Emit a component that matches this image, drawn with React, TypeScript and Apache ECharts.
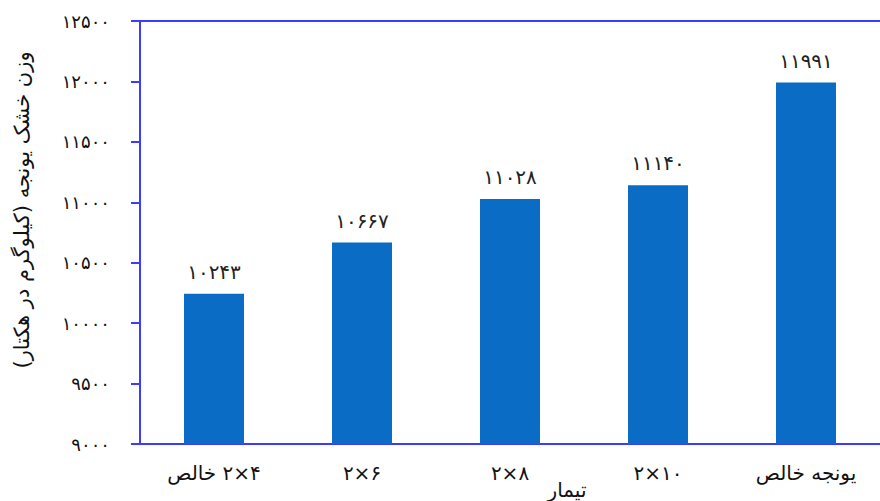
import React, { useEffect, useRef } from "react";
import * as echarts from "echarts";

const categories = ["۲×۴ خالص", "۲×۶", "۲×۸", "۲×۱۰", "یونجه خالص"];
const values = [10243, 10667, 11028, 11140, 11991];
const yMin = 9000;
const yMax = 12500;
const yStep = 500;
const yAxisTitle = "وزن خشک یونجه (کیلوگرم در هکتار)";
const xAxisTitle = "تیمار";

const toPersian = (n: number | string) =>
  String(n).replace(/[0-9]/g, (d) => "۰۱۲۳۴۵۶۷۸۹"[Number(d)]);

const FONT = "DejaVu Sans";
const AXIS_COLOR = "#3c3cff";

// Right-to-left display of a "digits word" label: word on the left, digits on the right
const catFormatter = (v: string) => {
  if (/^[۰-۹]/.test(v) && v.indexOf(" ") > 0) {
    const i = v.indexOf(" ");
    return "{t|" + v.slice(i + 1) + "}{t| }{t|" + v.slice(0, i) + "}";
  }
  return "{t|" + v + "}";
};

export default function App() {
  const ref = useRef<HTMLDivElement>(null);
  useEffect(() => {
    document.body.style.margin = "0";
    const chart = echarts.init(ref.current!, null, { renderer: "svg" });
    chart.setOption({
      animation: false,
      backgroundColor: "#ffffff",
      textStyle: { fontFamily: FONT },
      grid: { left: 140, right: -10, top: 21, bottom: 57, containLabel: false },
      xAxis: [
        {
          type: "category",
          data: categories,
          axisLine: { lineStyle: { color: AXIS_COLOR, width: 2 } },
          axisTick: { show: false },
          axisLabel: {
            interval: 0,
            color: "#111",
            fontSize: 20,
            fontFamily: FONT,
            margin: 19,
            formatter: catFormatter,
            rich: { t: { color: "#111", fontSize: 20, fontFamily: FONT } },
          },
        },
        {
          type: "category",
          data: categories,
          position: "top",
          axisLine: { show: true, lineStyle: { color: AXIS_COLOR, width: 2 } },
          axisTick: { show: false },
          axisLabel: { show: false },
        },
      ],
      yAxis: {
        type: "value",
        min: yMin,
        max: yMax,
        interval: yStep,
        axisLine: { show: true, lineStyle: { color: AXIS_COLOR, width: 2 } },
        axisTick: { show: true, inside: false, length: 9, lineStyle: { color: AXIS_COLOR, width: 2 } },
        splitLine: { show: false },
        axisLabel: {
          color: "#111",
          fontSize: 18,
          fontFamily: FONT,
          margin: 30,
          formatter: (v: number) => toPersian(v),
        },
      },
      series: [
        {
          type: "bar",
          xAxisIndex: 0,
          data: values,
          barWidth: 60,
          itemStyle: { color: "#0a6cc4" },
          label: {
            show: true,
            position: "top",
            distance: 12,
            color: "#222",
            fontSize: 20,
            fontFamily: FONT,
            formatter: (p: any) => toPersian(p.value),
          },
        },
      ],
      graphic: [
        {
          type: "text",
          x: 22,
          y: 210,
          rotation: Math.PI / 2,
          style: {
            text: yAxisTitle,
            fontSize: 21,
            fontFamily: FONT,
            fill: "#111",
            align: "center",
            verticalAlign: "middle",
          },
        },
        {
          type: "text",
          x: 567,
          y: 490,
          style: {
            text: xAxisTitle,
            fontSize: 20,
            fontFamily: FONT,
            fill: "#111",
            align: "center",
            verticalAlign: "middle",
          },
        },
      ],
    });
    return () => chart.dispose();
  }, []);
  return <div ref={ref} style={{ width: 880, height: 501 }} />;
}
